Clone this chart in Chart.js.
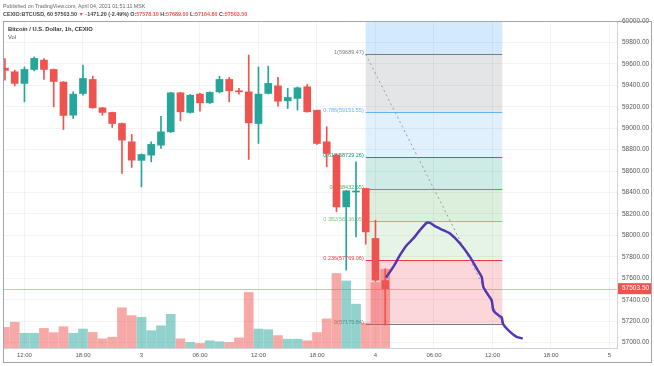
<!DOCTYPE html>
<html>
<head>
<meta charset="utf-8">
<script src="https://cdn.jsdelivr.net/npm/chart.js@4.4.1/dist/chart.umd.min.js"></script>
<style>
  html,body{margin:0;padding:0;background:#fff;}
  #wrap{position:relative;width:654px;height:366px;overflow:hidden;font-family:"Liberation Sans",Arial,sans-serif;}
  #c{position:absolute;left:0;top:0;}
  .t{position:absolute;white-space:nowrap;color:#444;line-height:7px;}
  .r{color:#ef5350;}
</style>
</head>
<body>
<div id="wrap">
  <canvas id="c" width="654" height="366"></canvas>
  <div class="t" style="left:3px;top:2.5px;font-size:5.3px;color:#666">Published on TradingView.com, April 04, 2021 01:51:11 MSK</div>
  <div class="t" style="left:3px;top:11px;font-size:5.4px;font-weight:bold">CEXIO:BTCUSD, 60 57503.50 <span class="r">▼</span> -1471.20 (-2.49%) O:<span class="r">57578.10</span> H:<span class="r">57689.00</span> L:<span class="r">57164.80</span> C:<span class="r">57503.50</span></div>
  <div class="t" style="left:8px;top:25.5px;font-size:5.8px;font-weight:bold;color:#333">Bitcoin / U.S. Dollar, 1h, CEXIO</div>
  <div class="t" style="left:8px;top:33.5px;font-size:5.8px;color:#555">Vol</div>
</div>
<script>
// hourly candles, hour 0 = Apr 2 10:00
const hours  = [0,1,2,3,4,5,6,7,8,9,10,11,12,13,14,15,16,17,18,19,20,21,22,23,24,25,26,27,28,29,30,31,32,33,34,35,36,37,38,39];
const opens  = [59560,59526,59418,59548,59635,59548,59430,59122,59324,59455,59190,59147,59044,58873,58700,58749,58842,58966,59330,59147,59318,59237,59339,59455,59349,59339,59044,59324,59395,59255,59278,59386,59168,58873,58749,58266,58405,58438,57972,57578.1];
const highs  = [59650,59542,59572,59665,59650,59552,59436,59340,59588,59486,59195,59150,59048,58942,58760,58873,59112,59335,59335,59315,59325,59340,59486,59474,59371,59682,59572,59579,59474,59371,59385,59408,59170,59013,58755,58420,58686,58440,58142,57689];
const lows   = [59448,59395,59246,59535,59455,59199,58988,59090,59308,59188,59120,59007,58578,58634,58453,58686,58811,58960,59069,59140,59159,59230,59330,59246,59318,58709,58858,59320,59206,59184,59168,59150,58850,58640,58220,57676,57987,57918,57570,57164.8];
const closes = [59540,59418,59548,59651,59548,59436,59119,59318,59464,59190,59147,59044,58889,58702,58755,58849,58966,59330,59153,59308,59237,59334,59455,59349,59339,59050,59318,59418,59252,59287,59377,59153,58858,58765,58266,58416,58412,58033,57583,57503.5];
const volumes = [6.3,7.9,4.5,4.5,6.0,4.7,6.5,4.5,5.8,4.8,2.8,3.3,12.3,9.9,9.4,5.3,6.8,10.3,2.8,1.7,1.4,2.2,1.9,1.7,3.1,17.0,5.8,5.6,3.8,2.7,2.7,2.2,4.7,8.9,22.8,20.5,13.4,7.6,20.0,24.1];

const tickHours  = [2,8,14,20,26,32,38,44,50,56,62];
const tickLabels = ['12:00','18:00','3','06:00','12:00','18:00','4','06:00','12:00','18:00','5'];

// fib retracement drawing
const fibStart = 37, fibEnd = 51;
const fibLow = 57175.84, fibHigh = 59689.47;
const fibRatios = [0,0.236,0.382,0.5,0.618,0.786,1,1.618];
const fibColors = ['#787b86','#f23645','#81c784','#4caf50','#089981','#64b5f6','#787b86','#2196f3'];
const fibFills  = ['rgba(242,54,69,0.2)','rgba(129,199,132,0.2)','rgba(76,175,80,0.2)','rgba(8,153,129,0.2)','rgba(100,181,246,0.2)','rgba(120,123,134,0.2)','rgba(33,150,243,0.2)'];

// hand drawn projection
const projHours  = [39.08,39.83,40.51,41.2,41.88,42.56,43.25,43.59,44.1,44.95,45.64,46.67,47.69,48.38,48.89,49.06,49.57,49.92,50.08,50.6,50.94,51.1,51.8,52.48,53.1];
const projPrices = [57608,57707,57816,57909,57972,58049,58117,58117,58086,58049,58018,57925,57800,57692,57613,57520,57443,57396,57303,57256,57235,57172,57100,57054,57039];

const UP = '#26a69a', DOWN = '#ef5350';
const candleColors = closes.map((c,i)=> c >= opens[i] ? UP : DOWN);
const volColors = closes.map((c,i)=> c >= opens[i] ? 'rgba(38,166,154,0.5)' : 'rgba(239,83,80,0.5)');
const lastClose = closes[closes.length-1];
const FONT = "'Liberation Sans', Arial, sans-serif";
Chart.defaults.font.family = FONT;

const fibPlugin = {
  id: 'fib',
  beforeDatasetsDraw(chart){
    const {ctx, chartArea:a, scales:{x,y}} = chart;
    const range = fibHigh - fibLow;
    const x0 = x.getPixelForValue(fibStart), x1 = x.getPixelForValue(fibEnd);
    ctx.save();
    ctx.beginPath(); ctx.rect(a.left, a.top, a.right-a.left, a.bottom-a.top); ctx.clip();
    for(let k=0;k<fibRatios.length-1;k++){
      const ya = y.getPixelForValue(fibLow + fibRatios[k]*range);
      const yb = y.getPixelForValue(fibLow + fibRatios[k+1]*range);
      ctx.fillStyle = fibFills[k];
      ctx.fillRect(x0, yb, x1-x0, ya-yb);
    }
    ctx.font = '5.5px ' + FONT;
    ctx.textAlign = 'right';
    ctx.textBaseline = 'bottom';
    for(let k=0;k<fibRatios.length;k++){
      const p = fibLow + fibRatios[k]*range;
      const yy = Math.round(y.getPixelForValue(p)) + 0.5;
      if(yy < a.top) continue;
      ctx.strokeStyle = fibColors[k];
      ctx.lineWidth = 1;
      ctx.beginPath(); ctx.moveTo(x0, yy); ctx.lineTo(x1, yy); ctx.stroke();
      ctx.fillStyle = fibColors[k];
      ctx.fillText(fibRatios[k] + '(' + p.toFixed(2) + ')', x0 - 2, yy + 1);
    }
    // last price line
    const yl = Math.round(y.getPixelForValue(lastClose)) + 0.5;
    ctx.strokeStyle = 'rgba(239,83,80,0.45)';
    ctx.beginPath(); ctx.moveTo(a.left, yl); ctx.lineTo(a.right, yl); ctx.stroke();
    ctx.restore();
  },
  afterDraw(chart){
    const {ctx, chartArea:a, scales:{y}} = chart;
    ctx.save();
    const yl = y.getPixelForValue(lastClose);
    ctx.fillStyle = '#ef5350';
    ctx.fillRect(a.right + 1, yl - 5.5, chart.width - a.right - 4, 11);
    ctx.fillStyle = '#fff';
    ctx.font = '6.5px ' + FONT;
    ctx.textBaseline = 'middle';
    ctx.fillText(lastClose.toFixed(2), a.right + 5, yl);
    // panel frame
    ctx.strokeStyle = '#a3a6af';
    ctx.lineWidth = 1;
    ctx.strokeRect(a.left + 0.5, a.top + 0.5, chart.width - a.left - 3, chart.height - a.top - 4);
    ctx.restore();
  }
};

new Chart(document.getElementById('c'), {
  type: 'bar',
  data: {
    datasets: [
      { type:'line', label:'projection', data: projHours.map((h,i)=>({x:h, y:projPrices[i]})),
        borderColor:'#5236b2', borderWidth:2.5, pointRadius:0, tension:0.2, order:1 },
      { type:'line', label:'trend', data: [{x:fibStart, y:fibHigh},{x:fibEnd, y:fibLow}],
        borderColor:'#9598a1', borderWidth:1, borderDash:[2,3], pointRadius:0, order:2 },
      { label:'body', data: hours.map((h,i)=>({x:h, y:[opens[i], closes[i]]})),
        backgroundColor:candleColors, barThickness:7, minBarLength:1, grouped:false, order:3 },
      { label:'wick', data: hours.map((h,i)=>({x:h, y:[lows[i], highs[i]]})),
        backgroundColor:candleColors, barThickness:1, grouped:false, order:4 },
      { label:'volume', yAxisID:'vol', data: hours.map((h,i)=>({x:h, y:volumes[i]})),
        backgroundColor:volColors, barThickness:9, grouped:false, order:5 }
    ]
  },
  options: {
    responsive:false,
    animation:false,
    devicePixelRatio:1,
    layout:{ padding:{left:3, top:21, right:0, bottom:4} },
    plugins:{ legend:{display:false}, tooltip:{enabled:false} },
    scales:{
      x:{
        type:'linear', min:-0.2, max:62.77, offset:false,
        grid:{ color:'rgba(42,46,57,0.06)', offset:false, drawTicks:false },
        border:{ color:'#d1d4dc' },
        afterBuildTicks: ax => { ax.ticks = tickHours.map(v=>({value:v})); },
        afterFit: ax => { ax.height = 14; },
        ticks:{ autoSkip:false, maxRotation:0, padding:4, color:'#555', font:{size:6},
          callback:(v,i)=>tickLabels[i] }
      },
      y:{
        type:'linear', position:'right', min:56950, max:60000,
        grid:{ color:'rgba(42,46,57,0.06)', drawTicks:false },
        border:{ color:'#d1d4dc' },
        afterFit: ax => { ax.width = 37; },
        ticks:{ stepSize:200, includeBounds:false, padding:5, color:'#555', font:{size:6.5},
          callback:v=>v.toFixed(2) }
      },
      vol:{ type:'linear', display:false, min:0, max:100 }
    }
  },
  plugins:[fibPlugin]
});
</script>
</body>
</html>
